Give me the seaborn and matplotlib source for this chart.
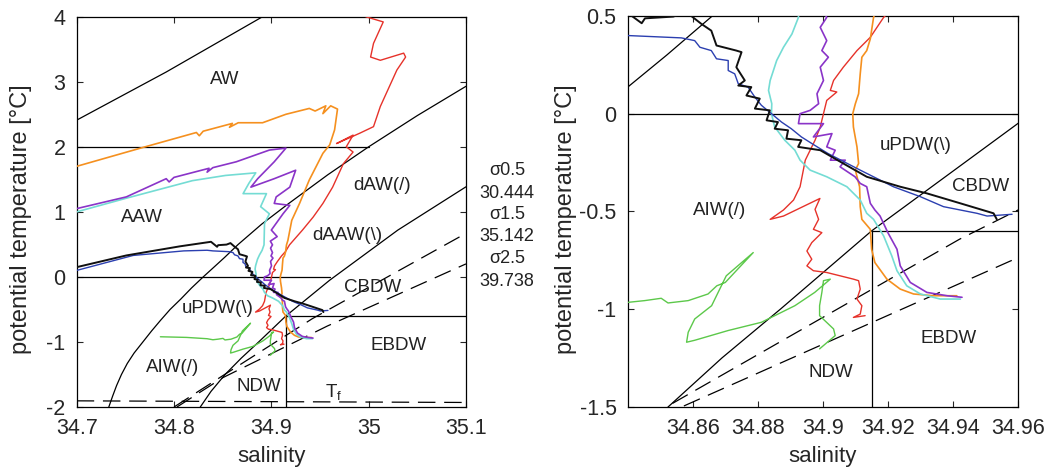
import matplotlib
matplotlib.use("Agg")
import matplotlib.pyplot as plt
import seaborn as sns

# ---------------- data ----------------
# CTD profiles (salinity, potential temperature)
red_S = [34.997, 35.015, 35.005, 35.002, 35.012, 35.036, 35.038, 35.029, 35.012, 35.005,
         34.991, 34.967, 34.984, 34.977, 34.984, 34.974, 34.963, 34.953, 34.943, 34.932,
         34.9187, 34.9146, 34.9105, 34.9063, 34.9033, 34.9023, 34.9043, 34.9012, 34.9002,
         34.8992, 34.8976, 34.8961, 34.8946, 34.894, 34.893, 34.891, 34.8879, 34.8838,
         34.8879, 34.8991, 34.8976, 34.8987, 34.8971, 34.8997, 34.8966, 34.8951, 34.8966,
         34.8951, 34.8971, 34.9012, 34.9053, 34.9094, 34.911, 34.9115, 34.9105, 34.912,
         34.9115, 34.9094, 34.913]
red_T = [4.0, 3.92, 3.59, 3.38, 3.33, 3.44, 3.38, 3.18, 2.62, 2.31,
         2.21, 2.05, 2.18, 2.0, 1.92, 1.74, 1.38, 1.13, 0.92, 0.72,
         0.493, 0.391, 0.323, 0.238, 0.17, 0.119, 0.111, 0.068, 0.0,
         -0.068, -0.136, -0.187, -0.238, -0.289, -0.374, -0.442, -0.493, -0.541,
         -0.524, -0.434, -0.49, -0.541, -0.592, -0.609, -0.66, -0.703, -0.745,
         -0.779, -0.804, -0.813, -0.83, -0.847, -0.855, -0.898, -0.949, -0.983,
         -1.026, -1.043, -1.034]

orange_S = [34.7, 34.768, 34.823, 34.826, 34.83, 34.86, 34.857, 34.866, 34.891, 34.915,
            34.939, 34.945, 34.956, 34.953, 34.961, 34.968, 34.965, 34.96, 34.953, 34.939,
            34.929, 34.921, 34.917, 34.9156, 34.9146, 34.9135, 34.912, 34.9115, 34.911,
            34.910, 34.9092, 34.9094, 34.9105, 34.911, 34.910, 34.9113, 34.9115, 34.912,
            34.9146, 34.915, 34.916, 34.9197, 34.9238, 34.9279, 34.934, 34.9412]
orange_T = [1.70, 1.99, 2.22, 2.17, 2.24, 2.36, 2.30, 2.37, 2.37, 2.50,
            2.59, 2.55, 2.63, 2.51, 2.63, 2.58, 2.26, 2.03, 1.90, 1.49,
            1.13, 0.87, 0.56, 0.493, 0.383, 0.323, 0.289, 0.204, 0.102,
            0.051, 0.0, -0.068, -0.17, -0.255, -0.289, -0.374, -0.476, -0.541,
            -0.592, -0.694, -0.762, -0.847, -0.898, -0.923, -0.932, -0.932]

purple_S = [34.7, 34.751, 34.792, 34.795, 34.80, 34.836, 34.834, 34.84, 34.864, 34.898,
            34.915, 34.903, 34.886, 34.879, 34.903, 34.925, 34.919, 34.905, 34.903, 34.919,
            34.912, 34.900, 34.906, 34.899, 34.9012, 34.8992, 34.9012, 34.8997, 34.9017,
            34.8992, 34.9002, 34.8982, 34.8987, 34.8961, 34.893, 34.8925, 34.9002, 34.8971,
            34.9028, 34.9012, 34.9038, 34.9023, 34.9069, 34.9053, 34.9099, 34.9115, 34.9135,
            34.9146, 34.916, 34.9176, 34.920, 34.9228, 34.9238, 34.9269, 34.932, 34.9382,
            34.9428]
purple_T = [1.05, 1.23, 1.51, 1.46, 1.53, 1.67, 1.61, 1.68, 1.77, 1.95,
            1.98, 1.77, 1.51, 1.38, 1.51, 1.64, 1.38, 1.23, 1.13, 1.10,
            0.97, 0.72, 0.62, 0.55, 0.493, 0.442, 0.374, 0.323, 0.289,
            0.238, 0.170, 0.102, 0.051, 0.017, 0.0, -0.051, -0.051, -0.119,
            -0.102, -0.17, -0.187, -0.238, -0.238, -0.272, -0.323, -0.357, -0.374,
            -0.459, -0.493, -0.524, -0.609, -0.694, -0.779, -0.864, -0.915, -0.932,
            -0.94]

cyan_S = [34.7, 34.751, 34.819, 34.853, 34.884, 34.877, 34.871, 34.895, 34.889, 34.898,
          34.893, 34.8925, 34.8905, 34.8879, 34.8858, 34.8838, 34.8833, 34.8843, 34.8842,
          34.8852, 34.8883, 34.8914, 34.893, 34.8961, 34.9012, 34.9074, 34.9115, 34.9135,
          34.9156, 34.9187, 34.9212, 34.9228, 34.9258, 34.930, 34.9361, 34.9423]
cyan_T = [1.0, 1.21, 1.48, 1.56, 1.60, 1.44, 1.28, 1.28, 1.08, 0.97,
          0.82, 0.493, 0.408, 0.34, 0.272, 0.17, 0.119, 0.051, 0.0,
          -0.068, -0.136, -0.187, -0.238, -0.289, -0.323, -0.374, -0.442, -0.51,
          -0.541, -0.626, -0.728, -0.804, -0.881, -0.923, -0.949, -0.949]

blue_S = [34.7, 34.758, 34.81, 34.834, 34.84, 34.8565, 34.8606, 34.8622, 34.8657, 34.8673,
          34.8709, 34.8709, 34.8729, 34.874, 34.877, 34.8791, 34.8811, 34.8842, 34.8873,
          34.8903, 34.8934, 34.8975, 34.9016, 34.9115, 34.9217, 34.930, 34.9371, 34.9474,
          34.9505, 34.9582]
blue_T = [0.10, 0.33, 0.40, 0.41, 0.40, 0.388, 0.374, 0.34, 0.323, 0.281,
          0.272, 0.221, 0.204, 0.153, 0.136, 0.085, 0.043, 0.0, -0.043,
          -0.077, -0.119, -0.162, -0.204, -0.289, -0.374, -0.425, -0.476, -0.51,
          -0.524, -0.515]

black_S = [34.7, 34.751, 34.806, 34.838, 34.8443, 34.8453, 34.854, 34.858, 34.8627, 34.8657,
           34.8673, 34.8734, 34.875, 34.8734, 34.876, 34.874, 34.878, 34.8765, 34.8806,
           34.8791, 34.8837, 34.8827, 34.8862, 34.8852, 34.8893, 34.8888, 34.8934, 34.8924,
           34.8992, 34.9063, 34.9135, 34.9238, 34.932, 34.9423, 34.9525, 34.9535]
black_T = [0.15, 0.33, 0.47, 0.54, 0.463, 0.488, 0.497, 0.52, 0.459, 0.425,
           0.349, 0.323, 0.315, 0.238, 0.17, 0.144, 0.136, 0.093, 0.077,
           0.026, 0.017, -0.034, -0.043, -0.077, -0.085, -0.128, -0.136, -0.17,
           -0.187, -0.255, -0.323, -0.374, -0.408, -0.459, -0.51, -0.541]

green_S = [34.786, 34.813, 34.834, 34.84, 34.8452, 34.8503, 34.8524, 34.8586, 34.8647,
           34.8674, 34.870, 34.8786, 34.8703, 34.8683, 34.8658, 34.8606, 34.8586, 34.8581,
           34.8606, 34.8709, 34.8811, 34.8914, 34.8975, 34.9023, 34.9002, 34.8997, 34.899,
           34.899, 34.9033, 34.9038, 34.899]
green_T = [-0.92, -0.93, -0.95, -0.966, -0.957, -0.945, -0.969, -0.957, -0.923,
           -0.881, -0.864, -0.711, -0.83, -0.898, -0.983, -1.051, -1.119, -1.17,
           -1.16, -1.11, -1.068, -0.983, -0.915, -0.847, -0.855, -0.915, -0.983,
           -1.034, -1.102, -1.136, -1.204]

# isopycnals and water-mass boundaries
iso_top_S = [34.7, 34.792, 34.891]
iso_top_T = [2.41, 3.15, 4.0]
sig05_S = [34.733, 34.737, 34.741, 34.746, 34.752, 34.759, 34.768, 34.777, 34.786,
           34.796, 34.807, 34.818, 34.830, 34.840, 34.852, 34.866, 34.890, 34.918,
           34.958, 35.0, 35.05, 35.1]
sig05_T = [-2.0, -1.83, -1.67, -1.5, -1.33, -1.17, -1.0, -0.83, -0.67,
           -0.5, -0.34, -0.17, 0.0, 0.136, 0.30, 0.5, 0.81, 1.13,
           1.57, 2.0, 2.48, 2.93]
sig15_S = [34.827, 34.838, 34.8525, 34.869, 34.887, 34.915, 34.96, 35.03, 35.1]
sig15_T = [-2.0, -1.76, -1.5, -1.25, -1.0, -0.6, -0.05, 0.72, 1.385]
dashA_S = [34.80, 34.852, 34.942, 35.1]
dashA_T = [-2.0, -1.5, -0.643, 0.67]
dashB_S = [34.803, 34.850, 34.9577, 35.1]
dashB_T = [-2.0, -1.55, -0.754, 0.2]
tf_S = [34.7, 35.1]
tf_T = [-1.905, -1.93]
h2_S, h2_T = [34.7, 35.0], [2.0, 2.0]
h0_S, h0_T = [34.7, 34.96], [0.0, 0.0]
h06_S, h06_T = [34.915, 35.1], [-0.6, -0.6]
v_S, v_T = [34.915, 34.915], [-2.0, -0.6]

left_labels = ["AW", "AAW", "dAW(/)", "dAAW(\\)", "CBDW", "uPDW(\\)", "EBDW", "AIW(/)", "NDW"]
left_lab_S = [34.852, 34.767, 35.0135, 34.978, 35.004, 34.845, 35.0305, 34.7987, 34.8874]
left_lab_T = [3.03, 0.91, 1.41, 0.63, -0.163, -0.487, -1.056, -1.385, -1.692]
right_labels = ["uPDW(\\)", "CBDW", "AIW(/)", "EBDW", "NDW"]
right_lab_S = [34.9284, 34.9486, 34.8683, 34.9386, 34.9025]
right_lab_T = [-0.162, -0.374, -0.495, -1.153, -1.327]
sigma_text = ["σ0.5", "30.444", "σ1.5", "35.142", "σ2.5", "39.738"]

left_xticks = [34.7, 34.8, 34.9, 35.0, 35.1]
left_xticklabels = ["34.7", "34.8", "34.9", "35", "35.1"]
left_yticks = [-2, -1, 0, 1, 2, 3, 4]
right_xticks = [34.86, 34.88, 34.90, 34.92, 34.94, 34.96]
right_xticklabels = ["34.86", "34.88", "34.9", "34.92", "34.94", "34.96"]
right_yticks = [-1.5, -1.0, -0.5, 0.0, 0.5]
right_yticklabels = ["-1.5", "-1", "-0.5", "0", "0.5"]

# ---------------- style ----------------
sns.set_style("ticks")
plt.rcParams['font.family'] = ['Liberation Sans', 'DejaVu Sans']
plt.rcParams['axes.unicode_minus'] = False
plt.rcParams['mathtext.default'] = 'regular'

profiles = [
    (green_S, green_T, "#5cc84a", 1.0),
    (red_S, red_T, "#e6322a", 1.0),
    (orange_S, orange_T, "#f5901f", 1.2),
    (cyan_S, cyan_T, "#74dcd4", 1.2),
    (purple_S, purple_T, "#8a34c8", 1.2),
    (blue_S, blue_T, "#2b3fb0", 1.0),
    (black_S, black_T, "#101010", 1.4),
]

fig = plt.figure(figsize=(10.49, 4.68), dpi=100)
axL = fig.add_axes([0.0731, 0.1303, 0.3711, 0.8340])
axR = fig.add_axes([0.5984, 0.1310, 0.3720, 0.8348])

for ax in (axL, axR):
    for S, T in [(iso_top_S, iso_top_T), (sig05_S, sig05_T), (sig15_S, sig15_T),
                 (h2_S, h2_T), (h0_S, h0_T), (h06_S, h06_T), (v_S, v_T)]:
        ax.plot(S, T, color="k", lw=0.9, zorder=2)
    for S, T in [(dashA_S, dashA_T), (dashB_S, dashB_T), (tf_S, tf_T)]:
        ax.plot(S, T, color="k", lw=0.9, dashes=(14, 7), zorder=2)
    for S, T, c, lw in profiles:
        sns.lineplot(x=S, y=T, sort=False, estimator=None, color=c, lw=lw, ax=ax, zorder=3)
    ax.tick_params(direction="in", top=True, right=True, length=4, width=0.8,
                   labelsize=15.5, pad=8)
    for sp in ax.spines.values():
        sp.set_linewidth(0.9)
        sp.set_color("k")
    ax.set_xlabel("salinity", fontsize=16, labelpad=5)
    ax.set_ylabel("potential temperature [°C]", fontsize=17)

axL.yaxis.set_label_coords(-0.1148, 0.48)
axR.yaxis.set_label_coords(-0.130, 0.48)

axL.set_xlim(34.7, 35.1)
axL.set_ylim(-2, 4)
axL.set_xticks(left_xticks)
axL.set_xticklabels(left_xticklabels)
axL.set_yticks(left_yticks)
axL.set_yticklabels([str(v) for v in left_yticks])

axR.set_xlim(34.84, 34.96)
axR.set_ylim(-1.5, 0.5)
axR.set_xticks(right_xticks)
axR.set_xticklabels(right_xticklabels)
axR.set_yticks(right_yticks)
axR.set_yticklabels(right_yticklabels)

for lab, s, t in zip(left_labels, left_lab_S, left_lab_T):
    axL.text(s, t, lab, fontsize=13.5, ha="center", va="center", color="#222222", zorder=5)
axL.text(34.955, -1.77, "T$_{f}$", fontsize=13.5, ha="left", va="center", color="#222222")
for lab, s, t in zip(right_labels, right_lab_S, right_lab_T):
    axR.text(s, t, lab, fontsize=13.5, ha="center", va="center", color="#222222", zorder=5)

ys = [170.7, 193.3, 215.0, 236.7, 258.3, 281.7]
for txt, y in zip(sigma_text, ys):
    fig.text(507 / 1049, 1 - y / 468, txt, fontsize=13, ha="center", va="center", color="#222222")

fig.savefig("out.png", dpi=100)
